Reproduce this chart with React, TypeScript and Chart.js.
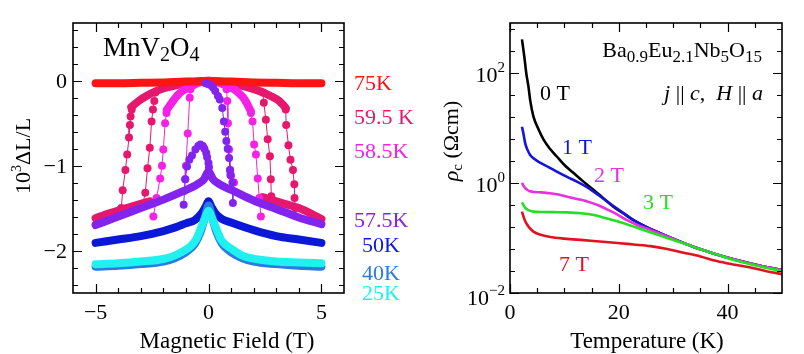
import React, { useEffect, useRef } from 'react';
import { Chart, registerables } from 'chart.js';

Chart.register(...registerables);

type Pt = [number, number];
const FONT = '"Liberation Serif", "Times New Roman", serif';

// ---------- Left panel: MnV2O4, 10^3 ΔL/L vs Magnetic Field (T) ----------
const band75K: Pt[] = [[-5, -0.03], [-4, -0.03], [-3, -0.025], [-2, -0.02], [-1, -0.01], [0, -0.005], [1, -0.01], [2, -0.02], [3, -0.025], [4, -0.03], [5, -0.03]];

const dome595K: Pt[] = [[-3.42, -0.31], [-3.1, -0.24], [-2.75, -0.18], [-2.3, -0.12], [-1.85, -0.08], [-1.4, -0.05], [-0.95, -0.03], [-0.5, -0.01], [0, 0], [0.5, -0.01], [1, -0.03], [1.5, -0.06], [2, -0.1], [2.35, -0.13], [2.75, -0.18], [3.1, -0.23], [3.42, -0.32]];
const low595KLeft: Pt[] = [[-5, -1.62], [-4.5, -1.57], [-4, -1.53], [-3.5, -1.49], [-3, -1.45], [-2.6, -1.42]];
const low595KRight: Pt[] = [[2.4, -1.37], [3, -1.42], [3.5, -1.46], [4, -1.5], [4.5, -1.56], [5, -1.63]];
const jump595KOuterLeft: Pt[] = [[-3.4, -0.34], [-3.45, -0.42], [-3.48, -0.52], [-3.52, -0.67], [-3.6, -0.87], [-3.68, -1.05], [-3.8, -1.29], [-3.86, -1.5]];
const jump595KInnerLeft: Pt[] = [[-2.35, -0.14], [-2.4, -0.24], [-2.46, -0.34], [-2.52, -0.48], [-2.6, -0.79], [-2.7, -1.03], [-2.8, -1.32], [-2.9, -1.45]];
const jump595KInnerRight: Pt[] = [[2.4, -0.14], [2.45, -0.26], [2.54, -0.46], [2.62, -0.69], [2.72, -0.89], [2.76, -1.16], [2.78, -1.36], [2.8, -1.42]];
const jump595KOuterRight: Pt[] = [[3.42, -0.34], [3.44, -0.52], [3.54, -0.76], [3.63, -0.93], [3.74, -1.05], [3.8, -1.22], [3.81, -1.38], [3.85, -1.5]];

const dome585K: Pt[] = [[-1.84, -0.34], [-1.6, -0.25], [-1.4, -0.18], [-1.1, -0.11], [-0.8, -0.07], [-0.4, -0.02], [0, 0], [0.4, -0.02], [0.8, -0.06], [1.13, -0.1], [1.4, -0.16], [1.6, -0.22], [1.88, -0.36]];
const jump585KOuterLeft: Pt[] = [[-1.86, -0.38], [-1.92, -0.5], [-2.0, -0.81], [-2.06, -1.0], [-2.14, -1.15], [-2.3, -1.38], [-2.44, -1.6]];
const jump585KInnerLeft: Pt[] = [[-0.8, -0.1], [-0.83, -0.2], [-0.92, -0.62], [-1.0, -1.0], [-1.03, -1.16], [-1.08, -1.3]];
const jump585KInnerRight: Pt[] = [[0.8, -0.1], [0.83, -0.24], [0.86, -0.5], [0.91, -0.81], [0.96, -1.05], [1.0, -1.12], [1.13, -1.2]];
const jump585KOuterRight: Pt[] = [[1.88, -0.38], [1.95, -0.48], [2.02, -0.75], [2.1, -0.87], [2.18, -1.15], [2.25, -1.38], [2.32, -1.6]];

const band575K: Pt[] = [[-5, -1.7], [-4, -1.6], [-3, -1.5], [-2, -1.4], [-1.2, -1.31], [-0.5, -1.22], [-0.2, -1.16], [0, -1.07], [0.2, -1.16], [0.5, -1.22], [1.2, -1.31], [2, -1.41], [3, -1.51], [4, -1.61], [5, -1.69]];
const jump575KRight: Pt[] = [[-0.13, -0.03], [0.0, -0.04], [0.09, -0.05], [0.2, -0.08], [0.3, -0.12], [0.42, -0.18], [0.5, -0.22], [0.61, -0.32], [0.68, -0.48], [0.74, -0.6], [0.79, -0.71], [0.85, -0.8], [0.91, -0.91], [0.95, -1.05], [0.97, -1.11], [1.06, -1.2], [1.08, -1.44]];
const jump575KLeft: Pt[] = [[-1.1, -1.46], [-1.03, -1.16], [-0.95, -1.01], [-0.85, -0.93], [-0.73, -0.88], [-0.58, -0.81], [-0.45, -0.77], [-0.36, -0.75], [-0.25, -0.77], [-0.18, -0.8], [-0.1, -0.85], [-0.06, -0.9], [0.0, -0.97], [0.02, -1.02], [0.02, -1.1]];

const band50K: Pt[] = [[-5, -1.91], [-4, -1.87], [-3, -1.83], [-2, -1.77], [-1.5, -1.73], [-1, -1.68], [-0.6, -1.64], [-0.3, -1.56], [-0.12, -1.48], [0, -1.42], [0.12, -1.48], [0.3, -1.56], [0.6, -1.63], [1, -1.67], [2, -1.76], [3, -1.83], [4, -1.87], [5, -1.91]];
const band40K: Pt[] = [[-5, -2.19], [-4, -2.18], [-3, -2.16], [-2, -2.13], [-1.5, -2.09], [-1, -2.02], [-0.6, -1.92], [-0.35, -1.78], [-0.18, -1.63], [0, -1.47], [0.18, -1.63], [0.35, -1.78], [0.6, -1.92], [1, -2.02], [1.5, -2.09], [2, -2.13], [3, -2.16], [4, -2.18], [5, -2.19]];
const band25K: Pt[] = [[-5, -2.16], [-4, -2.15], [-3, -2.13], [-2, -2.1], [-1.5, -2.06], [-1, -1.99], [-0.8, -1.95], [-0.55, -1.87], [-0.37, -1.76], [-0.22, -1.66], [-0.1, -1.58], [0, -1.53], [0.1, -1.58], [0.22, -1.66], [0.37, -1.76], [0.55, -1.87], [0.8, -1.94], [1.13, -2.0], [1.5, -2.06], [1.88, -2.09], [3, -2.13], [4, -2.14], [5, -2.15]];

const tempLabels = ['75K', '59.5 K', '58.5K', '57.5K', '50K', '40K', '25K'];
const tempColors = ['#fa1414', '#e6186e', '#f522e6', '#8224ee', '#0b18d8', '#2a7ae0', '#1ff0f0'];

const leftXMajor = [-5, 0, 5];
const leftXMinor = [-4, -3, -2, -1, 1, 2, 3, 4];
const leftYMajor = [0, -1, -2];
const leftYMinor = [0.6, 0.4, 0.2, -0.2, -0.4, -0.6, -0.8, -1.2, -1.4, -1.6, -1.8, -2.2, -2.4];

// ---------- Right panel: Ba0.9Eu2.1Nb5O15, rho_c vs Temperature ----------
const rho0T: Pt[] = [[2.2, 400], [2.6, 205], [3.0, 96], [3.4, 55], [3.7, 32], [4.3, 16], [5.3, 9.1], [6.2, 6], [7.3, 4.2], [8.6, 3], [10, 2.1], [11.7, 1.5], [13.5, 1.05], [15.4, 0.74], [17.2, 0.52], [19, 0.37], [20.8, 0.28], [22.7, 0.21], [25.8, 0.145], [28.9, 0.107], [32, 0.08], [35, 0.062], [38, 0.05], [41.1, 0.041], [45, 0.033], [50, 0.026]];
const rho1T: Pt[] = [[2.2, 10.4], [2.5, 7.5], [2.8, 5.2], [3.2, 4], [3.7, 3.2], [4.5, 2.7], [5.6, 2.3], [7, 1.95], [8.6, 1.6], [10.5, 1.28], [12.3, 1.05], [14, 0.85], [15.3, 0.7], [17, 0.53], [19, 0.38], [20.8, 0.285], [22.7, 0.21], [25.8, 0.145], [28.9, 0.107], [32, 0.08], [35, 0.062], [38, 0.05], [41.1, 0.041], [45, 0.033], [50, 0.026]];
const rho2T: Pt[] = [[2.2, 1.0], [2.5, 0.88], [2.8, 0.8], [3.2, 0.74], [3.7, 0.7], [4.5, 0.68], [5.6, 0.67], [7, 0.65], [8.6, 0.62], [10.5, 0.56], [12.3, 0.51], [14.2, 0.46], [16, 0.4], [17.8, 0.33], [19.6, 0.27], [21.5, 0.21], [23.5, 0.17], [25.8, 0.14], [28.9, 0.106], [32, 0.08], [35, 0.062], [38, 0.05], [41.1, 0.041], [45, 0.033], [50, 0.026]];
const rho3T: Pt[] = [[2.2, 0.44], [2.5, 0.39], [2.8, 0.35], [3.4, 0.32], [4.3, 0.3], [6, 0.295], [8, 0.293], [10.5, 0.29], [13, 0.28], [15.4, 0.26], [17.5, 0.23], [19.7, 0.2], [22, 0.17], [24, 0.145], [26.5, 0.12], [28.9, 0.1], [32, 0.079], [35, 0.062], [38, 0.05], [41, 0.04], [45, 0.032], [50, 0.025]];
const rho7T: Pt[] = [[2.2, 0.3], [2.5, 0.24], [2.8, 0.2], [3.4, 0.16], [4.3, 0.13], [5.5, 0.115], [7.4, 0.104], [10, 0.097], [13.5, 0.091], [16.5, 0.086], [19.7, 0.081], [22.7, 0.076], [25.8, 0.071], [28.9, 0.063], [31.9, 0.054], [35, 0.046], [38, 0.038], [41, 0.033], [44.2, 0.029], [47, 0.025], [50, 0.022]];

const fieldLabels = ['0 T', '1 T', '2 T', '3 T', '7 T'];
const fieldColors = ['#000000', '#1414dc', '#e830e0', '#22e022', '#e0141e'];

const rightXMajor = [0, 20, 40];
const rightXMinor = [5, 10, 15, 25, 30, 35, 45];
const rightYMajorExp = [2, 0, -2];
const rightYMinorExp = [2.8, 2.4, 1.6, 1.2, 0.8, 0.4, -0.4, -0.8, -1.2, -1.6];

// ---------- helpers ----------
type Seg = { t: string; size: number; dy?: number; italic?: boolean };
const fontOf = (s: Seg) => `${s.italic ? 'italic ' : ''}${s.size}px ${FONT}`;
function richWidth(ctx: CanvasRenderingContext2D, segs: Seg[]) {
  let w = 0;
  for (const s of segs) { ctx.font = fontOf(s); w += ctx.measureText(s.t).width; }
  return w;
}
function drawRich(ctx: CanvasRenderingContext2D, segs: Seg[], x: number, y: number, align: 'left' | 'center' | 'right', color: string) {
  const w = richWidth(ctx, segs);
  let cx = align === 'left' ? x : align === 'center' ? x - w / 2 : x - w;
  ctx.textAlign = 'left';
  ctx.textBaseline = 'alphabetic';
  ctx.fillStyle = color;
  for (const s of segs) {
    ctx.font = fontOf(s);
    ctx.fillText(s.t, cx, y + (s.dy || 0));
    cx += ctx.measureText(s.t).width;
  }
}
const minus = (v: number) => (v < 0 ? '\u2212' + Math.abs(v) : String(v));

function frameAndTicks(chart: any, xMaj: number[], xMin: number[], yMaj: number[], yMin: number[]) {
  const { ctx, chartArea: a, scales } = chart;
  const xs = scales.x, ys = scales.y;
  ctx.save();
  ctx.strokeStyle = '#000';
  ctx.lineWidth = 1.2;
  const xt = (vals: number[], len: number) => vals.forEach((v) => {
    const p = Math.round(xs.getPixelForValue(v)) + 0.5;
    ctx.beginPath();
    ctx.moveTo(p, a.bottom); ctx.lineTo(p, a.bottom - len);
    ctx.moveTo(p, a.top); ctx.lineTo(p, a.top + len);
    ctx.stroke();
  });
  const yt = (vals: number[], len: number) => vals.forEach((v) => {
    const p = Math.round(ys.getPixelForValue(v)) + 0.5;
    ctx.beginPath();
    ctx.moveTo(a.left, p); ctx.lineTo(a.left + len, p);
    ctx.moveTo(a.right, p); ctx.lineTo(a.right - len, p);
    ctx.stroke();
  });
  xt(xMaj, 9); xt(xMin, 5); yt(yMaj, 9); yt(yMin, 5);
  ctx.lineWidth = 1.6;
  ctx.strokeRect(a.left, a.top, a.right - a.left, a.bottom - a.top);
  ctx.restore();
}

const band = (pts: Pt[], color: string) => ({
  data: pts.map(([x, y]) => ({ x, y })),
  showLine: true, borderColor: color, backgroundColor: color, borderWidth: 8,
  pointRadius: 0, borderCapStyle: 'round', borderJoinStyle: 'round',
  cubicInterpolationMode: 'monotone', fill: false,
});
const dots = (pts: Pt[], color: string) => ({
  data: pts.map(([x, y]) => ({ x, y })),
  showLine: true, borderColor: color, backgroundColor: color, borderWidth: 1,
  pointRadius: 4, pointBackgroundColor: color, pointBorderWidth: 0, pointBorderColor: color,
  tension: 0, fill: false,
});
const curve = (pts: Pt[], color: string) => ({
  data: pts.map(([x, y]) => ({ x, y })),
  showLine: true, borderColor: color, backgroundColor: color, borderWidth: 2.6,
  pointRadius: 0, cubicInterpolationMode: 'monotone', fill: false,
});

const LEFT_W = 440;

function LeftPanel() {
  const ref = useRef<HTMLCanvasElement>(null);
  useEffect(() => {
    const [c75, c595, c585, c575, c50, c40, c25] = tempColors;
    const chart = new Chart(ref.current as HTMLCanvasElement, {
      type: 'scatter',
      data: {
        datasets: [
          band(band25K, c25), band(band40K, c40), band(band50K, c50),
          dots(jump575KRight, c575), dots(jump575KLeft, c575), band(band575K, c575),
          band(band75K, c75),
          dots(jump585KOuterLeft, c585), dots(jump585KInnerLeft, c585), dots(jump585KInnerRight, c585), dots(jump585KOuterRight, c585),
          band(dome585K, c585),
          dots(jump595KOuterLeft, c595), dots(jump595KInnerLeft, c595), dots(jump595KInnerRight, c595), dots(jump595KOuterRight, c595),
          band(dome595K, c595), band(low595KLeft, c595), band(low595KRight, c595),
        ] as any,
      },
      options: {
        animation: false, responsive: false, devicePixelRatio: 1, events: [],
        layout: { padding: { left: 73, right: LEFT_W - 344, top: 23, bottom: 61 } },
        plugins: { legend: { display: false }, tooltip: { enabled: false } },
        scales: {
          x: { type: 'linear', min: -6, max: 6, display: false },
          y: { type: 'linear', min: -2.5, max: 0.68, display: false },
        },
      },
      plugins: [{
        id: 'leftDecor',
        afterDraw(ch: any) {
          const ctx = ch.ctx as CanvasRenderingContext2D;
          frameAndTicks(ch, leftXMajor, leftXMinor, leftYMajor, leftYMinor);
          ctx.save();
          leftXMajor.forEach((v) => drawRich(ctx, [{ t: minus(v), size: 22 }], ch.scales.x.getPixelForValue(v), 318.5, 'center', '#000'));
          leftYMajor.forEach((v) => drawRich(ctx, [{ t: minus(v), size: 22 }], 67, ch.scales.y.getPixelForValue(v) + 7.5, 'right', '#000'));
          drawRich(ctx, [{ t: 'MnV', size: 27 }, { t: '2', size: 20, dy: 5 }, { t: 'O', size: 27 }, { t: '4', size: 20, dy: 5 }], 103, 56, 'left', '#000');
          drawRich(ctx, [{ t: 'Magnetic Field (T)', size: 23 }], 227, 348, 'center', '#000');
          const tx = [354, 354, 354, 354, 362, 362, 362];
          const ty = [90, 124, 158, 227, 252, 280, 300];
          tempLabels.forEach((t, i) => drawRich(ctx, [{ t, size: 22 }], tx[i], ty[i], 'left', tempColors[i]));
          ctx.translate(30, 156);
          ctx.rotate(-Math.PI / 2);
          drawRich(ctx, [{ t: '10', size: 22 }, { t: '3', size: 14, dy: -9 }, { t: '\u0394L/L', size: 22 }], 0, 0, 'center', '#000');
          ctx.restore();
        },
      }],
    } as any);
    return () => chart.destroy();
  }, []);
  return <canvas ref={ref} width={LEFT_W} height={354} style={{ position: 'absolute', left: 0, top: 0, width: LEFT_W, height: 354 }} />;
}

function RightPanel() {
  const ref = useRef<HTMLCanvasElement>(null);
  useEffect(() => {
    const [k0, k1, k2, k3, k7] = fieldColors;
    const chart = new Chart(ref.current as HTMLCanvasElement, {
      type: 'scatter',
      data: {
        datasets: [
          curve(rho7T, k7), curve(rho3T, k3), curve(rho2T, k2), curve(rho1T, k1), curve(rho0T, k0),
        ] as any,
      },
      options: {
        animation: false, responsive: false, devicePixelRatio: 1, events: [],
        layout: { padding: { left: 110, right: 22, top: 23, bottom: 61 } },
        plugins: { legend: { display: false }, tooltip: { enabled: false } },
        scales: {
          x: { type: 'linear', min: 0, max: 50, display: false },
          y: { type: 'logarithmic', min: 0.01, max: Math.pow(10, 2.9), display: false },
        },
      },
      plugins: [{
        id: 'rightDecor',
        afterDraw(ch: any) {
          const ctx = ch.ctx as CanvasRenderingContext2D;
          const yMaj = rightYMajorExp.map((e) => Math.pow(10, e));
          const yMin = rightYMinorExp.map((e) => Math.pow(10, e));
          frameAndTicks(ch, rightXMajor, rightXMinor, yMaj, yMin);
          ctx.save();
          rightXMajor.forEach((v) => drawRich(ctx, [{ t: String(v), size: 22 }], ch.scales.x.getPixelForValue(v), 318.5, 'center', '#000'));
          rightYMajorExp.forEach((e, i) => {
            const py = ch.scales.y.getPixelForValue(Math.pow(10, e));
            const dy = i === rightYMajorExp.length - 1 ? 12 : 9.5;
            drawRich(ctx, [{ t: '10', size: 22 }, { t: minus(e), size: 15, dy: -10 }], 105, py + dy, 'right', '#000');
          });
          drawRich(ctx, [{ t: 'Temperature (K)', size: 23 }], 247, 348, 'center', '#000');
          drawRich(ctx, [
            { t: 'Ba', size: 22 }, { t: '0.9', size: 17, dy: 5 }, { t: 'Eu', size: 22 }, { t: '2.1', size: 17, dy: 5 },
            { t: 'Nb', size: 22 }, { t: '5', size: 17, dy: 5 }, { t: 'O', size: 22 }, { t: '15', size: 17, dy: 5 },
          ], 362, 57, 'right', '#000');
          drawRich(ctx, [
            { t: 'j', size: 22, italic: true }, { t: ' || ', size: 22 }, { t: 'c', size: 22, italic: true }, { t: ',  ', size: 22 },
            { t: 'H', size: 22, italic: true }, { t: ' || ', size: 22 }, { t: 'a', size: 22, italic: true },
          ], 363, 100, 'right', '#000');
          const lx = [140, 162, 194, 243, 159];
          const ly = [100, 154, 181.5, 209, 270.5];
          fieldLabels.forEach((t, i) => drawRich(ctx, [{ t, size: 22 }], lx[i], ly[i], 'left', fieldColors[i]));
          ctx.translate(58, 141);
          ctx.rotate(-Math.PI / 2);
          drawRich(ctx, [{ t: '\u03C1', size: 22, italic: true }, { t: 'c', size: 15, dy: 4 }, { t: ' (\u03A9cm)', size: 22 }], 0, 0, 'center', '#000');
          ctx.restore();
        },
      }],
    } as any);
    return () => chart.destroy();
  }, []);
  return <canvas ref={ref} width={404} height={354} style={{ position: 'absolute', left: 400, top: 0, width: 404, height: 354 }} />;
}

export default function App() {
  return (
    <div style={{ position: 'absolute', left: 0, top: 0, width: 804, height: 354, background: '#fff', overflow: 'hidden' }}>
      <LeftPanel />
      <RightPanel />
    </div>
  );
}
